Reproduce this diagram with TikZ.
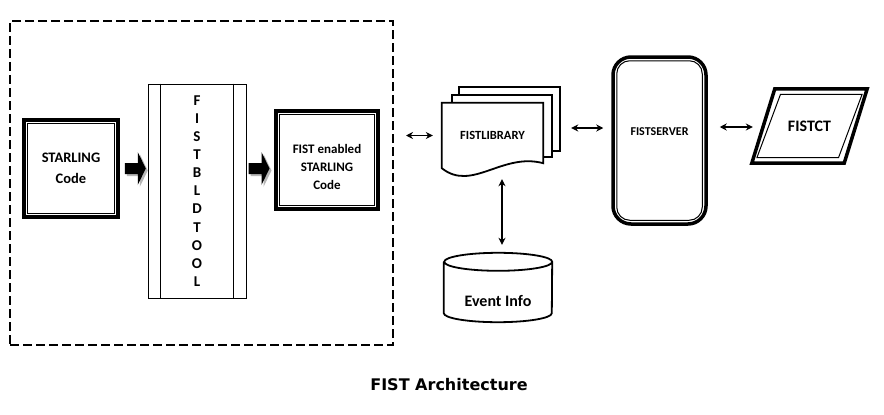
\documentclass[tikz,border=0pt]{standalone}
\usepackage{fontspec}
\setmainfont{Carlito}
\newfontfamily\titlefont{DejaVu Sans}
\usetikzlibrary{arrows.meta,calc,shadows,backgrounds}

\tikzset{
  thickbox/.style={draw, line width=3.5pt, inner sep=0pt, align=center},
  thinline/.style={line width=1pt},
  sheet/.style={draw, fill=white, line width=1.8pt},
  dblarrow/.style={line width=1.2pt, {Stealth[length=7pt,width=7pt]}-{Stealth[length=7pt,width=7pt]}},
  blockarrow/.style={fill=black, drop shadow={shadow xshift=2pt, shadow yshift=-2pt, fill=black!40, opacity=.7}},
}

\begin{document}
\begin{tikzpicture}[x=1pt,y=1pt]
    \useasboundingbox (0,0) rectangle (884,-415);

    % left part: the build step
    \node[draw, line width=2pt, dash pattern=on 9pt off 4pt, minimum width=383, minimum height=324] (fistbox) at (201.5,-183) {};

    \node[thickbox, minimum width=94, minimum height=97, font=\bfseries\fontsize{14.5}{21}\selectfont] (starling) at (71,-168.5) {STARLING\\Code};
    \draw[thinline] ([shift={(5.5,-5.5)}]starling.north west) rectangle ([shift={(-5.5,5.5)}]starling.south east);

    \node[draw, thinline, minimum width=98, minimum height=214, align=center, font=\bfseries\fontsize{15}{18.1}\selectfont] (tool) at (197,-191)
      {F\\I\\S\\T\\B\\L\\D\\T\\O\\O\\L};
    \draw[thinline] ([xshift=13]tool.north west) -- ([xshift=13]tool.south west);
    \draw[thinline] ([xshift=-13]tool.north east) -- ([xshift=-13]tool.south east);

    \node[thickbox, minimum width=102, minimum height=98,
      label={[align=center, yshift=-7, font=\bfseries\fontsize{13}{18}\selectfont]center:FIST enabled\\STARLING\\Code}] (enabled) at (327,-160) {};
    \draw[thinline] ([shift={(5.5,-5.5)}]enabled.north west) rectangle ([shift={(-5.5,5.5)}]enabled.south east);

    % block arrows
    \coordinate (arr1) at ($(starling.east)+(5,0)$);
    \coordinate (arr2) at ($(tool.east |- starling.east)+(2,0)$);
    \foreach \a in {arr1,arr2}
      \fill[blockarrow] (\a) ++(0,5.5) -- ++(13,0) -- ++(0,11) -- ++(8,-16.5) -- ++(-8,-16.5) -- ++(0,11) -- ++(-13,0) -- cycle;

    % library with its stacked pages
    \node[inner sep=0pt, minimum width=101, minimum height=65, font=\bfseries\fontsize{12.5}{15}\selectfont] (lib) at (492.5,-135.5) {FISTLIBRARY};
    \begin{scope}[on background layer]
      \draw[sheet] ([shift={(17,16)}]lib.north west) rectangle ([shift={(17,17)}]lib.south east);
      \draw[sheet] ([shift={(10,8)}]lib.north west) rectangle ([shift={(9,11)}]lib.south east);
      \draw[sheet] (lib.north west) -- (lib.north east) -- ([yshift=5]lib.south east)
        .. controls +(-41,11) and +(30,-24) .. (lib.south west) -- cycle;
    \end{scope}

    % database
    \node[inner sep=0pt, minimum width=108, minimum height=69,
      label={[yshift=-13.5, font=\bfseries\fontsize{16}{19}\selectfont]center:Event Info}] (event) at (498,-287.5) {};
    \draw[line width=1.8pt] ([yshift=-9]event.north west) -- ([yshift=9]event.south west)
      arc[start angle=180, end angle=360, x radius=54, y radius=9] -- ([yshift=-9]event.north east)
      arc[start angle=0, end angle=180, x radius=54, y radius=9]
      arc[start angle=180, end angle=360, x radius=54, y radius=9];

    % server
    \node[thickbox, rounded corners=18, minimum width=93, minimum height=167,
      label={[yshift=8.5, font=\bfseries\fontsize{12}{14}\selectfont]center:FISTSERVER}] (server) at (659.5,-140.5) {};
    \draw[thinline, rounded corners=13] ([shift={(5.5,-5.5)}]server.north west) rectangle ([shift={(-5.5,5.5)}]server.south east);

    % client
    \node[inner sep=0pt, minimum width=92, minimum height=74, font=\bfseries\fontsize{16}{19}\selectfont] (ct) at (809.5,-126) {FISTCT};
    \draw[line width=3.5pt] ([xshift=-11.5]ct.south west) -- ([xshift=11.5]ct.north west)
      -- ([xshift=11.5]ct.north east) -- ([xshift=-11.5]ct.south east) -- cycle;
    \draw[thinline] ([shift={(-6.4,5.5)}]ct.south west) -- ([shift={(17.2,-5.5)}]ct.north west)
      -- ([shift={(6.4,-5.5)}]ct.north east) -- ([shift={(-17.2,5.5)}]ct.south east) -- cycle;

    % links
    \draw[dblarrow] ($(fistbox.east |- lib.west)+(12,0)$) -- ([xshift=-9]lib.west);
    \draw[dblarrow] ([xshift=9.5,yshift=-11]lib.south) -- ([xshift=4,yshift=8]event.north);
    \draw[dblarrow] ([xshift=28,yshift=7.5]lib.east) -- ([xshift=-8,yshift=12.5]server.west);
    \draw[dblarrow] ([xshift=12,yshift=13.5]server.east) -- ([xshift=-10.5,yshift=-1]ct.west);

    \node[font=\titlefont\bfseries\fontsize{16}{19}\selectfont, anchor=base] (title) at (449,-390) {FIST Architecture};
\end{tikzpicture}
\end{document}
